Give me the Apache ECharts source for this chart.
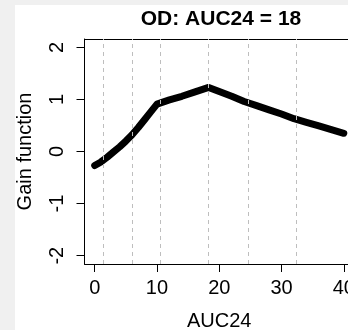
<!DOCTYPE html>
<html>
<head>
<meta charset="utf-8">
<script src="https://cdn.jsdelivr.net/npm/echarts@6/dist/echarts.min.js"></script>
<style>
html,body{margin:0;padding:0;background:#f0f0f0;width:348px;height:330px;overflow:hidden;}
#c{position:absolute;left:15px;top:5px;width:333px;height:325px;background:#fff;}
</style>
</head>
<body>
<div id="c"></div>
<script>
const titleText = 'OD: AUC24 = 18';
const xName = 'AUC24';
const yName = 'Gain function';
const auc = [0,1,2,3,4,5,6,7,8,9,10,12,14,16,18.3,20,22,24,26,28,30,32,34,36,38,40];
const gain = [-0.27,-0.20,-0.11,-0.01,0.09,0.20,0.32,0.46,0.61,0.76,0.91,0.99,1.06,1.14,1.23,1.15,1.06,0.96,0.88,0.80,0.72,0.63,0.56,0.49,0.42,0.35];
const refLines = [1.38, 6.1, 10.5, 18.3, 24.7, 32.4];
const xTicks = [0,10,20,30,40];
const yTicks = [-2,-1,0,1,2];

const font = 'Liberation Sans, Arial, sans-serif';
const chart = echarts.init(document.getElementById('c'), null, {renderer:'canvas'});
chart.setOption({
  animation:false,
  title:{text:titleText,left:206,top:4,textAlign:'center',padding:0,
    textStyle:{fontFamily:font,fontSize:21,fontWeight:'bold',color:'#000'}},
  grid:{left:69.5,top:34,width:269.5,height:225,outerBoundsMode:'none',containLabel:false},
  xAxis:[{type:'value',min:-1.64,max:41.64,position:'bottom',
    name:xName,nameLocation:'middle',nameGap:47,
    nameTextStyle:{fontFamily:font,fontSize:20,color:'#000'},
    axisLine:{show:true,onZero:false,lineStyle:{color:'#000',width:1}},
    splitLine:{show:false},
    axisTick:{show:true,length:8,inside:false,customValues:xTicks,lineStyle:{color:'#000'}},
    axisLabel:{show:true,margin:14,customValues:xTicks,fontFamily:font,fontSize:20,color:'#000',hideOverlap:false}
  },{type:'value',min:-1.64,max:41.64,position:'top',
    axisLine:{show:true,onZero:false,lineStyle:{color:'#000',width:1}},
    splitLine:{show:false},axisTick:{show:false},axisLabel:{show:false}
  }],
  yAxis:{type:'value',min:-2.16,max:2.16,position:'left',
    name:yName,nameLocation:'middle',nameGap:49,
    nameTextStyle:{fontFamily:font,fontSize:20,color:'#000'},
    axisLine:{show:true,onZero:false,lineStyle:{color:'#000',width:1}},
    splitLine:{show:false},
    axisTick:{show:true,length:8,inside:false,customValues:yTicks,lineStyle:{color:'#000'}},
    axisLabel:{show:true,margin:17,rotate:90,customValues:yTicks,fontFamily:font,fontSize:20,color:'#000'}
  },
  series:[{
    type:'line',
    xAxisIndex:0,
    data:auc.map((x,i)=>[x,gain[i]]),
    showSymbol:false,
    lineStyle:{color:'#000',width:7,cap:'round',join:'round'},
    z:3,
    markLine:{silent:true,symbol:['none','none'],label:{show:false},
      lineStyle:{color:'#bebebe',type:[4,4],width:1},
      data:refLines.map(v=>({xAxis:v}))}
  }]
});
</script>
</body>
</html>
